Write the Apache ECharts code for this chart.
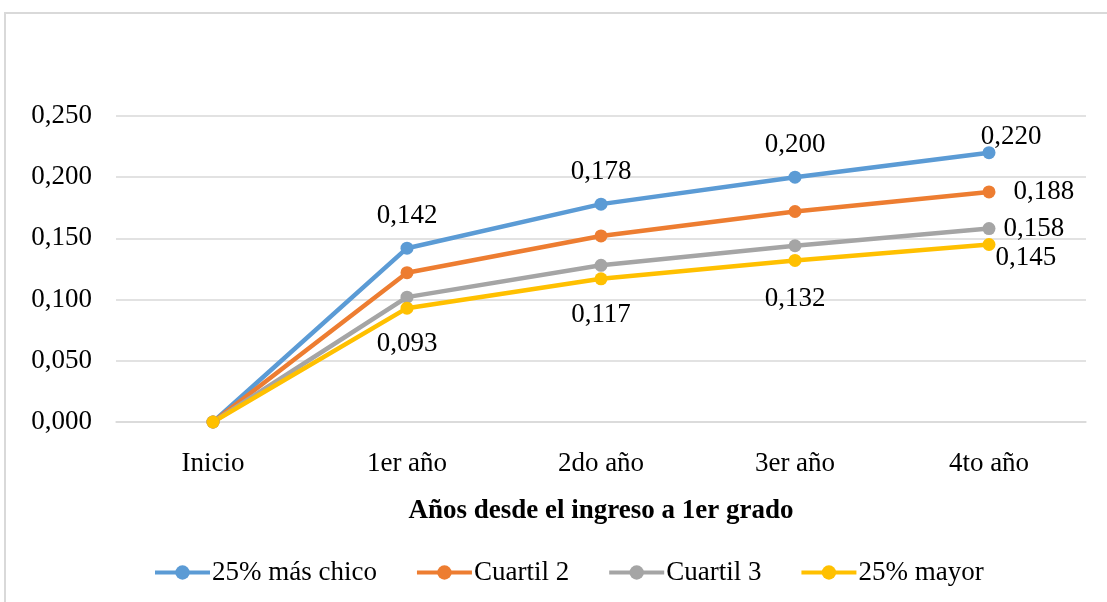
<!DOCTYPE html>
<html>
<head>
<meta charset="utf-8">
<script src="https://cdn.jsdelivr.net/npm/echarts@6/dist/echarts.min.js"></script>
<style>
  html, body { margin: 0; padding: 0; background: #fff; }
  #chart { width: 1107px; height: 602px; }
</style>
</head>
<body>
<div id="chart"></div>
<script>
// Categories and series values
const categories = ['Inicio', '1er año', '2do año', '3er año', '4to año'];
const seriesNames = ['25% más chico', 'Cuartil 2', 'Cuartil 3', '25% mayor'];
const masChico = [0, 0.142, 0.178, 0.200, 0.220];
const cuartil2 = [0, 0.122, 0.152, 0.172, 0.188];
const cuartil3 = [0, 0.102, 0.128, 0.144, 0.158];
const mayor = [0, 0.093, 0.117, 0.132, 0.145];
const yTicks = [0, 0.05, 0.10, 0.15, 0.20, 0.25];

const colors = ['#5B9BD5', '#ED7D31', '#A5A5A5', '#FFC000'];
const FONT = '"Liberation Serif", "Times New Roman", serif';
const FS = 27;
const fmt = v => v.toFixed(3).replace('.', ',');

// Which points carry a value label, and where
const labelRules = [
  { 1: { position: 'top', distance: 12 }, 2: { position: 'top', distance: 12 },
    3: { position: 'top', distance: 12 }, 4: { position: 'top', distance: 0, offset: [22, 4] } },
  { 4: { position: 'right', distance: 18 } },
  { 4: { position: 'right', distance: 8 } },
  { 1: { position: 'bottom', distance: 16 }, 2: { position: 'bottom', distance: 16 },
    3: { position: 'bottom', distance: 18 }, 4: { position: 'right', distance: 0, offset: [0, 13] } }
];

function buildData(values, rules) {
  return values.map((v, i) => {
    const r = rules[i];
    if (!r) return { value: v, label: { show: false } };
    return {
      value: v,
      label: Object.assign({
        show: true,
        formatter: p => fmt(p.value),
        color: '#000',
        fontFamily: FONT,
        fontSize: FS
      }, r)
    };
  });
}

const allValues = [masChico, cuartil2, cuartil3, mayor];

const chart = echarts.init(document.getElementById('chart'), null, { renderer: 'canvas' });

chart.setOption({
  animation: false,
  backgroundColor: '#fff',
  color: colors,
  graphic: [{
    type: 'rect',
    shape: { x: 5, y: 13, width: 1200, height: 700 },
    style: { fill: 'none', stroke: '#D9D9D9', lineWidth: 2 },
    silent: true
  }],
  grid: { left: 116, right: 21, top: 116, bottom: 180 },
  legend: {
    left: 148,
    top: 554,
    itemWidth: 55,
    itemHeight: 18,
    itemGap: 38,
    lineStyle: { width: 4 },
    textStyle: { fontFamily: FONT, fontSize: FS, color: '#000', padding: [0, 0, 0, -3] },
    data: seriesNames
  },
  xAxis: {
    type: 'category',
    data: categories,
    boundaryGap: true,
    axisLine: { show: true, lineStyle: { color: '#D9D9D9', width: 1.5 } },
    axisTick: { show: false },
    axisLabel: { fontFamily: FONT, fontSize: FS, color: '#000', margin: 28 },
    name: 'Años desde el ingreso a 1er grado',
    nameLocation: 'middle',
    nameGap: 76,
    nameTextStyle: { fontFamily: FONT, fontSize: FS, fontWeight: 'bold', color: '#000' }
  },
  yAxis: {
    type: 'value',
    min: yTicks[0],
    max: yTicks[yTicks.length - 1],
    interval: 0.05,
    axisLine: { show: false },
    axisTick: { show: false },
    splitLine: { lineStyle: { color: '#D9D9D9', width: 1.5 } },
    axisLabel: { fontFamily: FONT, fontSize: FS, color: '#000', margin: 24, formatter: v => fmt(v) }
  },
  series: seriesNames.map((name, k) => ({
    name,
    type: 'line',
    data: buildData(allValues[k], labelRules[k]),
    symbol: 'circle',
    symbolSize: 13,
    lineStyle: { width: 4.5, color: colors[k] },
    itemStyle: { color: colors[k] },
    emphasis: { disabled: true }
  }))
});
</script>
</body>
</html>
